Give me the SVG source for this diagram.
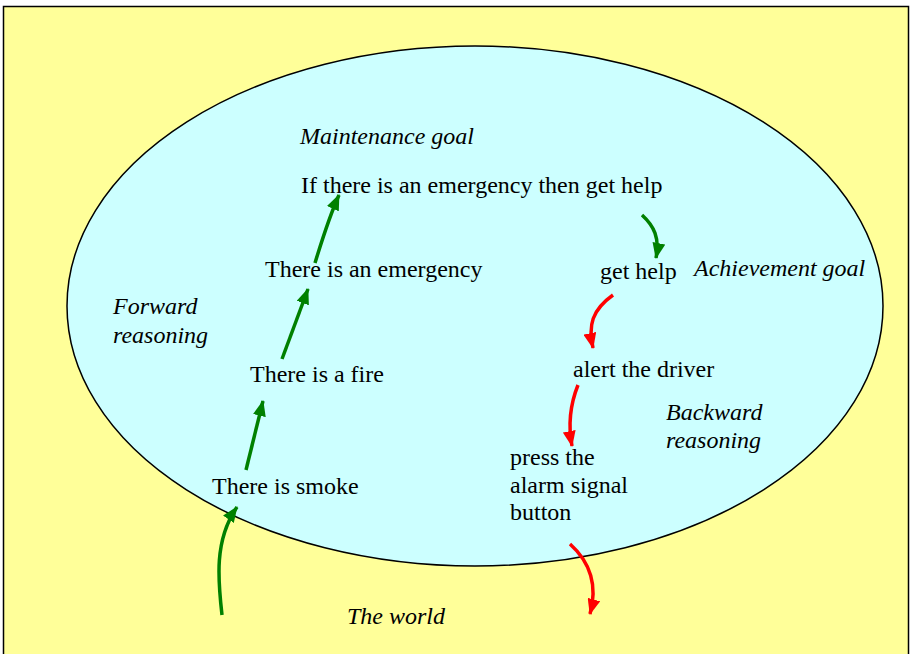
<svg xmlns="http://www.w3.org/2000/svg" width="911" height="654" viewBox="0 0 911 654">
<style>
text{font-family:"Liberation Serif","Times New Roman",serif;font-size:24px;fill:#000}
.i{font-style:italic}
.g{fill:none;stroke:#008000;stroke-width:3.5}
.r{fill:none;stroke:#FF0000;stroke-width:3.5}
</style>
<defs>
<marker id="ag" viewBox="0 0 16 13" refX="15" refY="6.5" markerWidth="16" markerHeight="13" markerUnits="userSpaceOnUse" orient="auto"><path d="M0,0 L16,6.5 L0,13 Z" fill="#008000"/></marker>
<marker id="ar" viewBox="0 0 16 13" refX="15" refY="6.5" markerWidth="16" markerHeight="13" markerUnits="userSpaceOnUse" orient="auto"><path d="M0,0 L16,6.5 L0,13 Z" fill="#FF0000"/></marker>
</defs>
<g id="world">
<rect x="3.5" y="6.5" width="905" height="660" fill="#FFFF99" stroke="#000" stroke-width="1.5"/>
<text class="i" x="347" y="624">The world</text>
</g>
<g id="mind">
<ellipse cx="475" cy="306" rx="408" ry="260" fill="#CCFFFF" stroke="#000" stroke-width="1.5"/>
</g>
<g id="labels">
<text class="i" x="300" y="144">Maintenance goal</text>
<text class="i" x="694" y="276">Achievement goal</text>
<text class="i" x="113" y="314">Forward</text>
<text class="i" x="113" y="343">reasoning</text>
<text class="i" x="666" y="420">Backward</text>
<text class="i" x="666" y="448">reasoning</text>
</g>
<g id="n-goal"><text x="301" y="193">If there is an emergency then get help</text></g>
<g id="n-emergency"><text x="265" y="277">There is an emergency</text></g>
<g id="n-fire"><text x="250" y="382">There is a fire</text></g>
<g id="n-smoke"><text x="212" y="494">There is smoke</text></g>
<g id="n-gethelp"><text x="600" y="279">get help</text></g>
<g id="n-alert"><text x="573" y="377">alert the driver</text></g>
<g id="n-press"><text x="510" y="465">press the</text><text x="510" y="493">alarm signal</text><text x="510" y="520">button</text></g>
<g id="connectors">
<path class="g" marker-end="url(#ag)" d="M222,615 C218,580 214,540 237,507"/>
<path class="g" marker-end="url(#ag)" d="M246,470 L263,401"/>
<path class="g" marker-end="url(#ag)" d="M282,359 L308,289"/>
<path class="g" marker-end="url(#ag)" d="M315,263 C322,240 330,215 339,195"/>
<path class="g" marker-end="url(#ag)" d="M642,215 C654,226 660,238 656,258"/>
<path class="r" marker-end="url(#ar)" d="M613,295 C592,310 588,325 593,348"/>
<path class="r" marker-end="url(#ar)" d="M578,385 C570,405 568,425 572,446"/>
<path class="r" marker-end="url(#ar)" d="M570,544 C590,562 598,585 590,614"/>
</g>
</svg>
